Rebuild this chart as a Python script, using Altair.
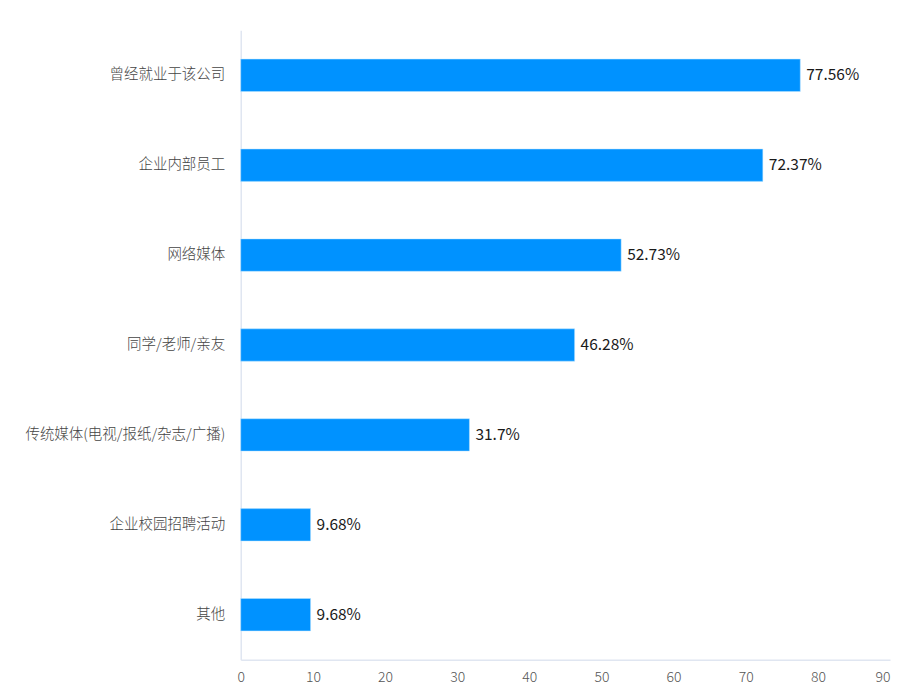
import altair as alt
import pandas as pd

categories = ["曾经就业于该公司", "企业内部员工", "网络媒体", "同学/老师/亲友",
              "传统媒体(电视/报纸/杂志/广播)", "企业校园招聘活动", "其他"]
values = [77.56, 72.37, 52.73, 46.28, 31.7, 9.68, 9.68]
labels = ["77.56%", "72.37%", "52.73%", "46.28%", "31.7%", "9.68%", "9.68%"]
ticks = [0, 10, 20, 30, 40, 50, 60, 70, 80, 90]

df = pd.DataFrame({"cat": categories, "val": values, "lab": labels})

FONT = "Noto Sans CJK SC"

y = alt.Y("cat:N", sort=categories, title=None,
          scale=alt.Scale(paddingInner=0.64, paddingOuter=0.32),
          axis=alt.Axis(ticks=False, domainColor="#e0e6f1", domainWidth=1.5,
                        labelColor="#444", labelFontSize=14.5, labelFont=FONT,
                        labelFontWeight=300,
                        labelPadding=16, labelLimit=400, grid=False))
x = alt.X("val:Q", title=None,
          scale=alt.Scale(domain=[0, 90], nice=False),
          axis=alt.Axis(values=ticks, ticks=False, grid=False,
                        domainColor="#e0e6f1", domainWidth=1.5,
                        labelColor="#555", labelFontSize=14, labelFont=FONT,
                        labelFontWeight=300,
                        labelAlign=alt.expr("datum.value == 90 ? 'right' : 'center'"),
                        labelPadding=11))

bars = alt.Chart(df).mark_bar(color="#0092ff", stroke="#b8e4ff", strokeWidth=0.5).encode(y=y, x=x)
text = alt.Chart(df).mark_text(align="left", dx=6, fontSize=15.5, font=FONT,
                               color="#1a1a1a").encode(
    y=alt.Y("cat:N", sort=categories), x="val:Q", text="lab:N")

chart = (bars + text).properties(
    width=650, height=630,
    background="white",
    autosize=alt.AutoSizeParams(type="none"),
    padding={"left": 233, "top": 22, "right": 15, "bottom": 28},
).configure_view(strokeWidth=0, stroke=None)

chart.save("out.html", embed_options={"renderer": "svg", "actions": False})
